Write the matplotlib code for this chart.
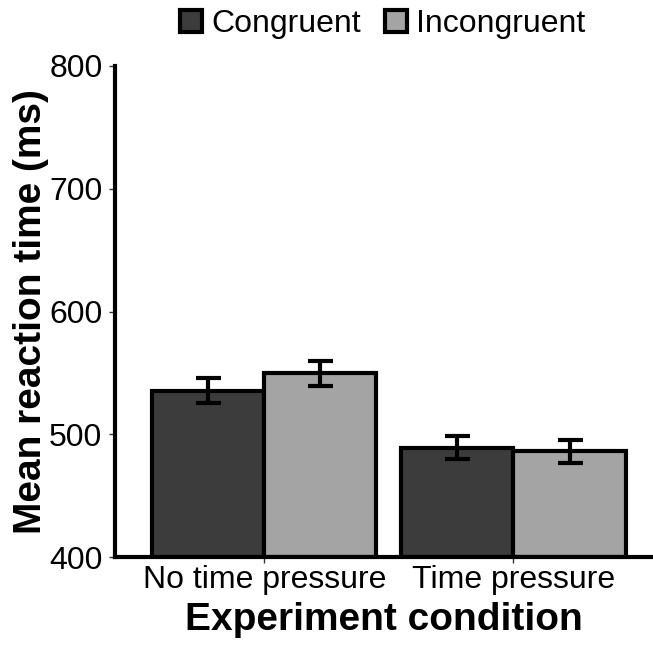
import numpy as np
from matplotlib import pyplot as plt
from matplotlib.patches import Patch

plt.rcParams['font.family'] = ['Liberation Sans', 'DejaVu Sans']

conditions = ["No time pressure", "Time pressure"]
groups = ["Congruent", "Incongruent"]
means = {"Congruent": [535.5, 489], "Incongruent": [549.5, 486]}
errors = {"Congruent": [10.2, 9.5], "Incongruent": [10, 9.4]}
colors = {"Congruent": "#3c3c3c", "Incongruent": "#a4a4a4"}

fig = plt.figure(figsize=(6.53, 6.45), dpi=100)
ax = fig.add_axes([0.176, 0.1364, 0.824, 0.7613])

x = np.arange(1, len(conditions) + 1)
width = 0.45
for i, g in enumerate(groups):
    pos = x + (i - 0.5) * width
    ax.bar(pos, np.array(means[g]) - 400, width, bottom=400, color=colors[g],
           edgecolor="black", linewidth=3, zorder=2)
    ax.errorbar(pos, means[g], yerr=errors[g], fmt="none", ecolor="black",
                elinewidth=3, capsize=9, capthick=3, zorder=3)

ax.set_xlim(0.4, 2.56)
ax.set_ylim(400, 800)
ax.set_yticks([400, 500, 600, 700, 800])
ax.set_xticks(x)
ax.set_xticklabels(conditions)
ax.tick_params(labelsize=23, length=4, width=1, color="#333333", pad=5)
ax.tick_params(axis="x", pad=2)
for s in ["top", "right"]:
    ax.spines[s].set_visible(False)
for s in ["left", "bottom"]:
    ax.spines[s].set_linewidth(3)
ax.set_ylabel("Mean reaction time (ms)", fontsize=28, fontweight="bold", labelpad=0)
ax.set_xlabel("Experiment condition", fontsize=28, fontweight="bold", labelpad=5)

handles = [Patch(facecolor=colors[g], edgecolor="black", linewidth=3, label=g) for g in groups]
fig.legend(handles=handles, loc="upper center", bbox_to_anchor=(0.586, 1.03), ncol=2,
           frameon=False, fontsize=23, handlelength=0.68, handleheight=0.68,
           handletextpad=0.3, columnspacing=0.75)

fig.savefig("out.png", dpi=100)
